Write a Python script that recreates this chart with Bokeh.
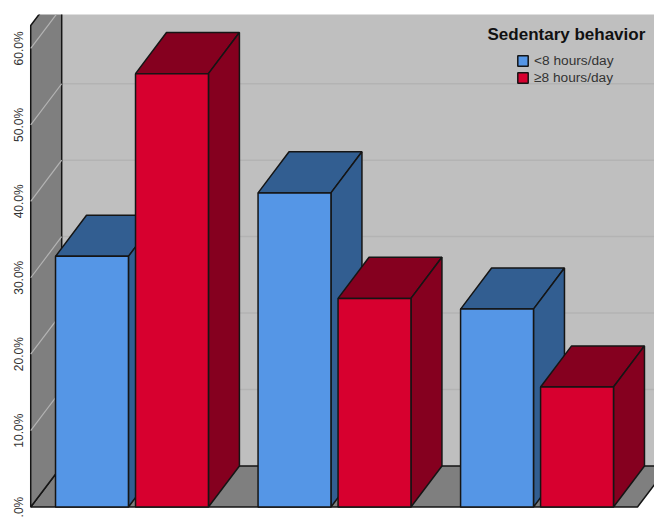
from bokeh.embed import file_html
from bokeh.models import FixedTicker, Label, Legend, LegendItem
from bokeh.plotting import figure
from bokeh.resources import INLINE

# Chart data
categories = ["Physically inactive", "Moderately active", "Highly active"]
under_8h = [32.8, 41.1, 25.9]
over_8h = [56.7, 27.3, 15.7]
y_ticks = [0, 10, 20, 30, 40, 50, 60]
y_tick_labels = [".0%", "10.0%", "20.0%", "30.0%", "40.0%", "50.0%", "60.0%"]
series_names = ["<8 hours/day", "\u22658 hours/day"]

# Oblique projection: how far a point moves as it goes from front to back
DEPTH_X = 0.153
DEPTH_Y = 5.38
BAR_W = 0.36
BAR_GAP = 0.035

# Extent of the box, front edge
BOX_LEFT = -0.5
BOX_RIGHT = 2.496
BOX_TOP = 63.0

OUTLINE = "#151515"
WALL = "#7f7f7f"
BACK = "#bfbfbf"
BLUE = ("#5596e6", "#325e91")
RED = ("#d7002f", "#85001f")

p = figure(
    width=654, height=528,
    x_range=(-0.506, 2.58), y_range=(-0.19, 64.44),
    output_backend="svg", toolbar_location=None,
    min_border_left=29, min_border_right=0, min_border_top=14, min_border_bottom=20,
)
p.outline_line_color = None
p.grid.visible = False

# Back wall, floor and side wall
p.patch([BOX_LEFT + DEPTH_X, BOX_RIGHT + DEPTH_X, BOX_RIGHT + DEPTH_X, BOX_LEFT + DEPTH_X],
        [DEPTH_Y, DEPTH_Y, BOX_TOP + DEPTH_Y, BOX_TOP + DEPTH_Y],
        fill_color=BACK, line_color=None)

back_ticks = [t for t in y_ticks if t > 0]
p.segment([BOX_LEFT + DEPTH_X] * len(back_ticks), [t + DEPTH_Y for t in back_ticks],
          [BOX_RIGHT + DEPTH_X] * len(back_ticks), [t + DEPTH_Y for t in back_ticks],
          line_color="#b3b3b3", line_width=1.5)

p.patch([BOX_LEFT, BOX_RIGHT, BOX_RIGHT + DEPTH_X, BOX_LEFT + DEPTH_X],
        [0, 0, DEPTH_Y, DEPTH_Y],
        fill_color=WALL, line_color=OUTLINE, line_width=1.5)
p.patch([BOX_LEFT, BOX_LEFT + DEPTH_X, BOX_LEFT + DEPTH_X, BOX_LEFT],
        [0, DEPTH_Y, BOX_TOP + DEPTH_Y, BOX_TOP],
        fill_color=WALL, line_color=OUTLINE, line_width=1.5)
p.segment([BOX_LEFT] * len(back_ticks), back_ticks,
          [BOX_LEFT + DEPTH_X] * len(back_ticks), [t + DEPTH_Y for t in back_ticks],
          line_color="#b4b4b4", line_width=1.2)


def draw_bar(left, value, colors):
    """Draw one bar as top, right side and front, returning the front face."""
    right = left + BAR_W
    p.patch([left, right, right + DEPTH_X, left + DEPTH_X],
            [value, value, value + DEPTH_Y, value + DEPTH_Y],
            fill_color=colors[1], line_color=OUTLINE, line_width=1.5)
    p.patch([right, right + DEPTH_X, right + DEPTH_X, right],
            [0, DEPTH_Y, value + DEPTH_Y, value],
            fill_color=colors[1], line_color=OUTLINE, line_width=1.5)
    return p.patch([left, right, right, left], [0, 0, value, value],
                   fill_color=colors[0], line_color=OUTLINE, line_width=1.5)


# Bars go left to right so each one overlaps the side of its neighbour
fronts = []
for i, (low, high) in enumerate(zip(under_8h, over_8h)):
    a = draw_bar(i - BAR_GAP / 2 - BAR_W, low, BLUE)
    b = draw_bar(i + BAR_GAP / 2, high, RED)
    fronts.append((a, b))

# Axes
p.yaxis.ticker = FixedTicker(ticks=y_ticks)
p.yaxis.major_label_overrides = dict(zip(y_ticks, y_tick_labels))
p.yaxis.major_label_orientation = "vertical"
p.yaxis.major_label_text_font = "Liberation Sans"
p.yaxis.major_label_text_font_size = "12px"
p.yaxis.major_label_text_color = "#333333"
p.yaxis.major_label_standoff = 3
p.yaxis.major_tick_out = 0
p.yaxis.major_tick_in = 0
p.yaxis.axis_line_color = None
p.yaxis.major_tick_line_color = None
p.yaxis.minor_tick_line_color = None

# The category labels sit a little below the frame edge
p.xaxis.fixed_location = -0.65
p.xaxis.ticker = FixedTicker(ticks=[0, 1, 2])
p.xaxis.major_label_overrides = dict(enumerate(categories))
p.xaxis.major_label_text_font = "Liberation Sans"
p.xaxis.major_label_text_font_size = "16.3px"
p.xaxis.major_label_text_color = "#222222"
p.xaxis.major_label_standoff = 1
p.xaxis.major_tick_out = 0
p.xaxis.major_tick_in = 0
p.xaxis.axis_line_color = None
p.xaxis.major_tick_line_color = None
p.xaxis.minor_tick_line_color = None

# Legend
legend = Legend(
    items=[LegendItem(label=series_names[0], renderers=[fronts[0][0]]),
           LegendItem(label=series_names[1], renderers=[fronts[0][1]])],
    location=(487, 423),
    orientation="vertical",
    background_fill_alpha=0, border_line_color=None,
    margin=0, padding=0, spacing=2,
    glyph_width=13, glyph_height=13, label_standoff=5, label_height=13,
    label_text_font="Liberation Sans", label_text_font_size="13.7px",
    label_text_color="#333333",
)
p.add_layout(legend, "center")
p.add_layout(Label(x=458, y=465, x_units="screen", y_units="screen",
                   text="Sedentary behavior",
                   text_font="Liberation Sans", text_font_size="17px",
                   text_font_style="bold", text_color="#111111"))

open("out.html", "w").write(file_html(p, INLINE))
